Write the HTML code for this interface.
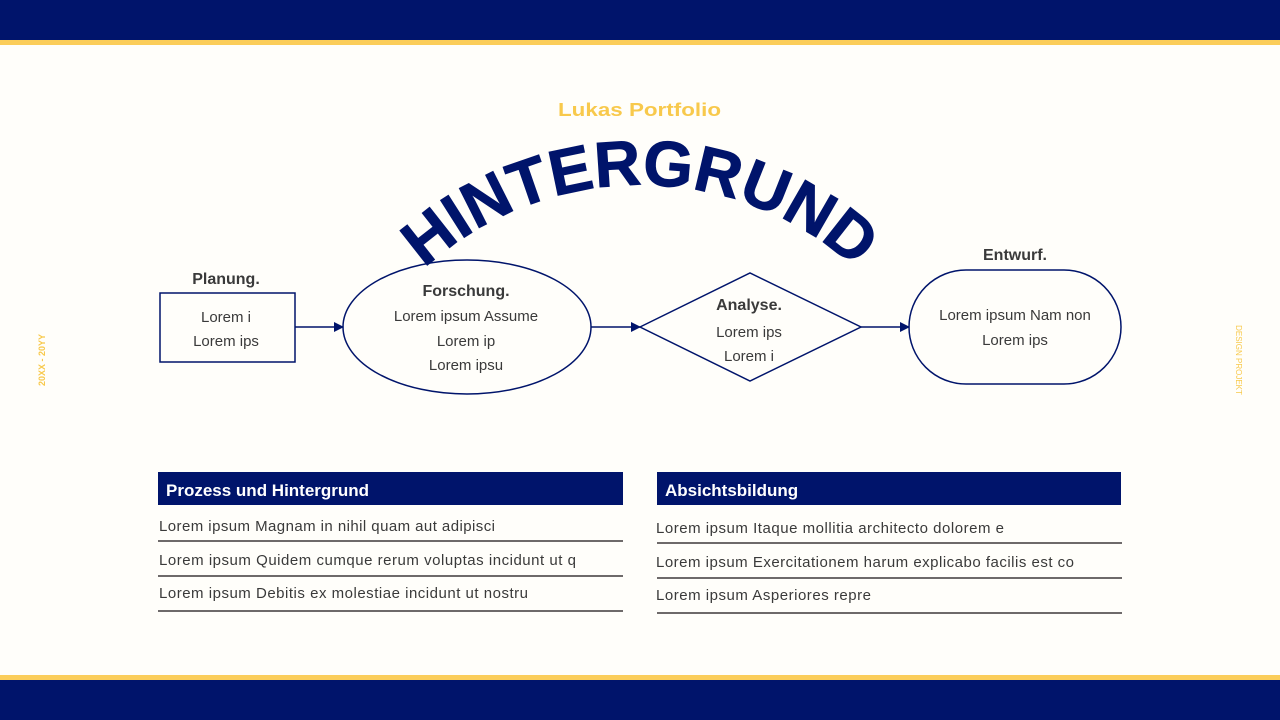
<!DOCTYPE html>
<html><head><meta charset="utf-8"><style>
html,body{margin:0;padding:0;background:#fffefa;}
svg{display:block;font-family:"Liberation Sans",Arial,sans-serif;}
</style></head><body>
<svg width="1280" height="720" viewBox="0 0 1280 720" xmlns="http://www.w3.org/2000/svg">
<defs>
<marker id="ar" markerWidth="10" markerHeight="10" refX="9" refY="5" orient="auto" markerUnits="userSpaceOnUse"><path d="M0,0 L10,5 L0,10 z" fill="#00146b"/></marker>
<path id="arc" d="M 320 505 A 320 320 0 0 1 960 505"/>
</defs>
<rect width="1280" height="720" fill="#fffefa"/>
<rect x="0" y="0" width="1280" height="40" fill="#00146b"/>
<rect x="0" y="40" width="1280" height="5" fill="#fbcd5a"/>
<rect x="0" y="675" width="1280" height="5" fill="#fbcd5a"/>
<rect x="0" y="680" width="1280" height="40" fill="#00146b"/>

<text x="558" y="116" font-size="18" font-weight="bold" fill="#f8c94c" textLength="163" lengthAdjust="spacingAndGlyphs">Lukas Portfolio</text>
<text font-size="64" font-weight="bold" fill="#00146b" stroke="#00146b" stroke-width="1"><textPath href="#arc" startOffset="50%" text-anchor="middle">HINTERGRUND</textPath></text>

<text transform="translate(45,360) rotate(-90)" text-anchor="middle" font-size="9" font-weight="bold" fill="#f8c94c">20XX - 20YY</text>
<text transform="translate(1236,360) rotate(90)" text-anchor="middle" font-size="8" fill="#f8c94c">DESIGN PROJEKT</text>

<g fill="none" stroke="#00146b" stroke-width="1.5">
<rect x="160" y="293" width="135" height="69"/>
<ellipse cx="467" cy="327" rx="124" ry="67"/>
<polygon points="640,327 750,273 861,327 750,381"/>
<rect x="909" y="270" width="212" height="114" rx="57"/>
<line x1="295" y1="327" x2="343" y2="327" marker-end="url(#ar)"/>
<line x1="591" y1="327" x2="640" y2="327" marker-end="url(#ar)"/>
<line x1="861" y1="327" x2="909" y2="327" marker-end="url(#ar)"/>
</g>

<g font-size="15" fill="#3a3a3a" text-anchor="middle">
<text x="226" y="284" font-weight="bold" font-size="16">Planung.</text>
<text x="226" y="322">Lorem i</text>
<text x="226" y="346">Lorem ips</text>
<text x="466" y="296" font-weight="bold" font-size="16">Forschung.</text>
<text x="466" y="321">Lorem ipsum Assume</text>
<text x="466" y="346">Lorem ip</text>
<text x="466" y="370">Lorem ipsu</text>
<text x="749" y="310" font-weight="bold" font-size="16">Analyse.</text>
<text x="749" y="337">Lorem ips</text>
<text x="749" y="361">Lorem i</text>
<text x="1015" y="260" font-weight="bold" font-size="16">Entwurf.</text>
<text x="1015" y="320">Lorem ipsum Nam non</text>
<text x="1015" y="345">Lorem ips</text>
</g>

<rect x="158" y="472" width="465" height="33" fill="#00146b"/>
<text x="166" y="496" font-size="17" font-weight="bold" fill="#fff">Prozess und Hintergrund</text>
<g font-size="15" fill="#3a3a3a">
<text x="159" y="531" textLength="336">Lorem ipsum Magnam in nihil quam aut adipisci</text>
<text x="159" y="565" textLength="417">Lorem ipsum Quidem cumque rerum voluptas incidunt ut q</text>
<text x="159" y="598" textLength="369">Lorem ipsum Debitis ex molestiae incidunt ut nostru</text>
</g>
<g stroke="#6e6a6a" stroke-width="2">
<line x1="158" y1="541" x2="623" y2="541"/>
<line x1="158" y1="576" x2="623" y2="576"/>
<line x1="158" y1="611" x2="623" y2="611"/>
</g>

<rect x="657" y="472" width="464" height="33" fill="#00146b"/>
<text x="665" y="496" font-size="17" font-weight="bold" fill="#fff">Absichtsbildung</text>
<g font-size="15" fill="#3a3a3a">
<text x="656" y="533" textLength="348">Lorem ipsum Itaque mollitia architecto dolorem e</text>
<text x="656" y="567" textLength="418">Lorem ipsum Exercitationem harum explicabo facilis est co</text>
<text x="656" y="600" textLength="215">Lorem ipsum Asperiores repre</text>
</g>
<g stroke="#6e6a6a" stroke-width="2">
<line x1="657" y1="543" x2="1122" y2="543"/>
<line x1="657" y1="578" x2="1122" y2="578"/>
<line x1="657" y1="613" x2="1122" y2="613"/>
</g>
</svg>
</body></html>
